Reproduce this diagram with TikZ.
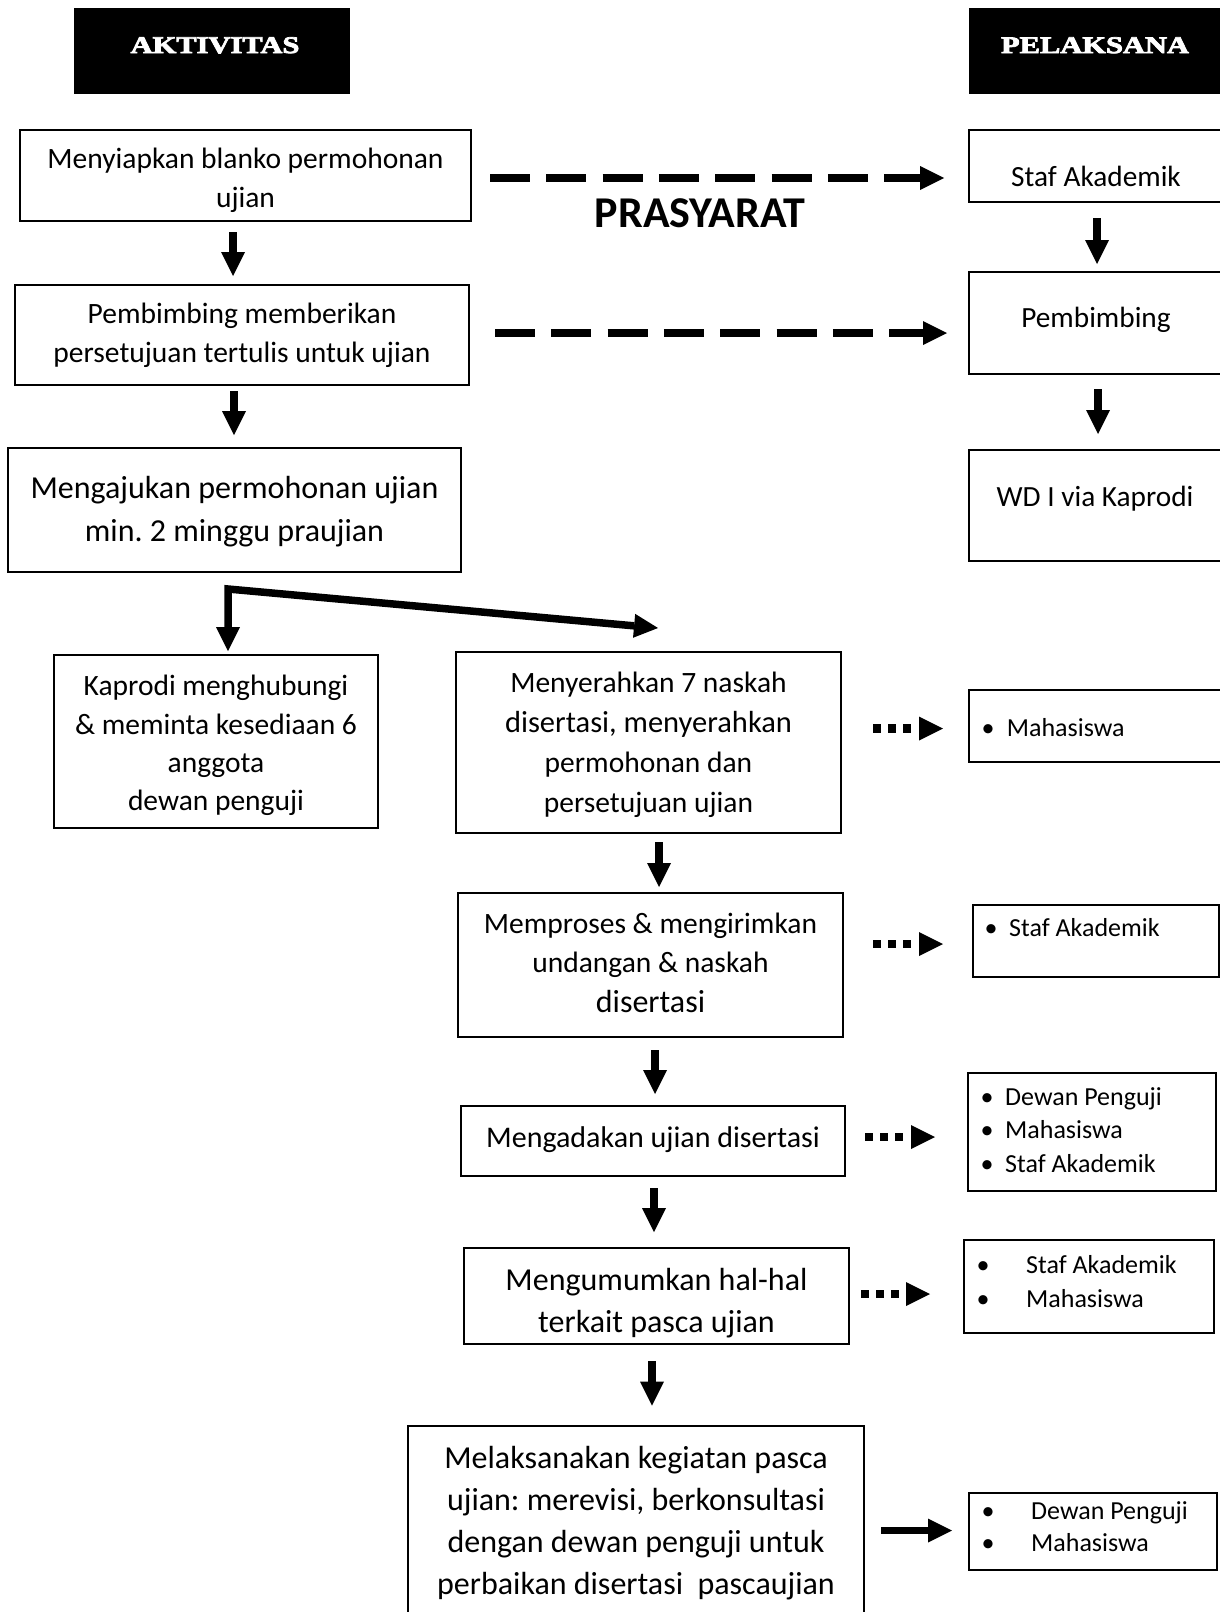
\documentclass[tikz,border=0pt]{standalone}
\usepackage{fontspec}
\setmainfont{Carlito}
\newfontfamily\headfont[BoldFeatures={FakeBold=3}]{Liberation Serif}
\usetikzlibrary{arrows.meta}
\newcommand\fsz[2]{\fontsize{#1}{#2}\selectfont}
\newcommand\bul[2]{\makebox[#1][l]{•}#2}
\frenchspacing

\tikzset{
  box/.style={draw=black, line width=2pt, inner sep=0pt},
  txt/.style={inner sep=0pt, align=center},
  headbox/.style={fill=black, draw=none, inner sep=0pt},
  headtxt/.style={text=white, font=\headfont\bfseries\fsz{24}{28}, xscale=1.27, inner sep=0pt},
  actor/.style={inner sep=0pt, font=\fsz{29.3}{38}, text height=0.72em, text depth=0.22em},
  item/.style={inner sep=0pt, anchor=west, font=\fsz{26}{34}, text height=0.72em, text depth=0.22em},
  flow/.style={line width=7.5pt, -{Triangle[length=24pt,width=24pt,line width=0pt]}},
  forkflow/.style={line width=7.5pt, line join=miter,
    {Triangle[length=24pt,width=24pt,line width=0pt]}-{Triangle[length=24pt,width=24pt,line width=0pt]}},
  dashflow/.style={line width=8.5pt, dash pattern=on 40pt off 16.3pt,
    -{Triangle[length=24pt,width=24pt,line width=0pt]}},
  dotflow/.style={line width=8.5pt, dash pattern=on 8pt off 7pt on 8pt off 7pt on 8pt off 40pt,
    -{Triangle[length=24pt,width=24pt,line width=0pt]}},
}

\begin{document}
\begin{tikzpicture}[x=1pt,y=-1pt]
\useasboundingbox (0,0) rectangle (1220,1612);

% column headers
\node[headbox, minimum width=276pt, minimum height=86pt] (hA) at (212,51) {};
\node[headtxt] (hAt) at (215,45.3) {AKTIVITAS};
\node[headbox, minimum width=255pt, minimum height=86pt] (hP) at (1096.5,51) {};
\node[headtxt] (hPt) at (1095,45.3) {PELAKSANA};

% activities
\node[box, minimum width=451pt, minimum height=91pt] (b1) at (245.5,175.5) {};
\node[txt, font=\fsz{29.5}{39}] (b1t) at (245.5,180)
  {Menyiapkan blanko permohonan\\ujian};
\node[box, minimum width=454pt, minimum height=100pt] (b2) at (242,335) {};
\node[txt, font=\fsz{29.5}{39}] (b2t) at (242,335)
  {Pembimbing memberikan\\persetujuan tertulis untuk ujian};
\node[box, minimum width=453pt, minimum height=124pt] (b3) at (234.5,510) {};
\node[txt, font=\fsz{32}{43}] (b3t) at (234.5,512)
  {Mengajukan permohonan ujian\\min. 2 minggu praujian};
\node[box, minimum width=324pt, minimum height=173pt] (b4) at (216,741.5) {};
\node[txt, font=\fsz{29.5}{38.3}] (b4t) at (216,745.5)
  {Kaprodi menghubungi\\\& meminta kesediaan 6\\anggota\\dewan penguji};
\node[box, minimum width=385pt, minimum height=181pt] (b5) at (648.5,742.5) {};
\node[txt, font=\fsz{29.5}{40}] (b5t) at (648.5,744.5)
  {Menyerahkan 7 naskah\\{\fsz{30.5}{40}disertasi, menyerahkan}\\permohonan dan\\persetujuan ujian};
\node[box, minimum width=385pt, minimum height=144pt] (b6) at (650.5,965) {};
\node[txt, font=\fsz{29.5}{39.5}] (b6t) at (650.5,962.5)
  {Memproses \& mengirimkan\\undangan \& naskah\\{\fsz{32}{39.5}disertasi}};
\node[box, minimum width=384pt, minimum height=70pt] (b7) at (653,1141) {};
\node[txt, font=\fsz{30}{39}] (b7t) at (653,1140)
  {Mengadakan ujian disertasi};
\node[box, minimum width=385pt, minimum height=96pt] (b8) at (656.5,1296) {};
\begin{scope}
  \clip (b8.south west) rectangle (b8.north east);
  \node[txt, font=\fsz{32}{42}] (b8t) at (656.5,1303.5)
    {Mengumumkan hal-hal\\terkait pasca ujian};
\end{scope}
\node[box, minimum width=456pt, minimum height=192pt] (b9) at (636,1522) {};
\node[txt, font=\fsz{32}{42}] (b9t) at (636,1523)
  {Melaksanakan kegiatan pasca\\ujian: merevisi, berkonsultasi\\dengan dewan penguji untuk\\perbaikan disertasi \ pascaujian};

% executors
\node[box, minimum width=255pt, minimum height=72pt] (R1) at (1096.5,166) {};
\node[actor] (R1t) at (1096,184) {Staf Akademik};
\node[box, minimum width=255pt, minimum height=102pt] (R2) at (1096.5,323) {};
\node[actor] (R2t) at (1096,325) {Pembimbing};
\node[box, minimum width=255pt, minimum height=111pt] (R3) at (1096.5,505.5) {};
\node[actor] (R3t) at (1095,504) {WD I via Kaprodi};

\node[box, minimum width=255.5pt, minimum height=72pt] (R4) at (1096.25,726) {};
\node[item] (R4a) at (981.5,734) {\bul{25.2pt}{Mahasiswa}};
\node[box, minimum width=246pt, minimum height=72pt] (R5) at (1095.5,941) {};
\node[item] (R5a) at (984.5,934) {\bul{24.5pt}{Staf Akademik}};
\node[box, minimum width=248pt, minimum height=118pt] (R6) at (1092,1132) {};
\node[item] (R6a) at (980.3,1102.5) {\bul{24.7pt}{Dewan Penguji}};
\node[item] (R6b) at (980.3,1136.4) {\bul{24.7pt}{Mahasiswa}};
\node[item] (R6c) at (980.3,1170) {\bul{24.7pt}{Staf Akademik}};
\node[box, minimum width=250pt, minimum height=93pt] (R7) at (1089,1286.5) {};
\node[item] (R7a) at (976.5,1271) {\bul{49.5pt}{Staf Akademik}};
\node[item] (R7b) at (976.5,1305) {\bul{49.5pt}{Mahasiswa}};
\node[box, minimum width=248pt, minimum height=77pt] (R8) at (1093,1531.5) {};
\node[item] (R8a) at (981.5,1516.5) {\bul{49.5pt}{Dewan Penguji}};
\node[item] (R8b) at (981.5,1549) {\bul{49.5pt}{Mahasiswa}};

% prerequisite links
\draw[dashflow, shorten <=18pt, shorten >=24pt] (b1.east |- 0,178) -- (R1.west |- 0,178);
\draw[dashflow, shorten <=25pt, shorten >=21pt] (b2.east |- 0,333) -- (R2.west |- 0,333);
\node[inner sep=0pt, font=\bfseries\fsz{44}{50}] (pre) at (700,213.5) {PRASYARAT};

% main flow
\draw[flow, shorten <=10pt, shorten >=8pt] (b1.south -| 233,0) -- (b2.north -| 233,0);
\draw[flow, shorten <=5pt, shorten >=12pt] (b2.south -| 234,0) -- (b3.north -| 234,0);
\draw[flow, shorten <=15pt, shorten >=7pt] (R1.south -| 1097,0) -- (R2.north -| 1097,0);
\draw[flow, shorten <=14pt, shorten >=15pt] (R2.south -| 1098,0) -- (R3.north -| 1098,0);

\coordinate (fork) at (228,589);
\coordinate (toB5) at (658,628);
\draw[forkflow, shorten <=3pt] (b4.north -| fork) -- (fork) -- (toB5);

\draw[flow, shorten <=8pt, shorten >=5pt] (b5.south -| 659,0) -- (b6.north -| 659,0);
\draw[flow, shorten <=12pt, shorten >=11pt] (b6.south -| 655,0) -- (b7.north -| 655,0);
\draw[flow, shorten <=11pt, shorten >=15pt] (b7.south -| 654,0) -- (b8.north -| 654,0);
\draw[flow, shorten <=16pt, shorten >=19.5pt] (b8.south -| 652,0) -- (b9.north -| 652,0);

% activity to executor links
\draw[dotflow, shorten <=31pt, shorten >=24.5pt] (b5.east |- 0,728.5) -- (R4.west |- 0,728.5);
\draw[dotflow, shorten <=29pt, shorten >=28.5pt] (b6.east |- 0,944) -- (R5.west |- 0,944);
\draw[dotflow, shorten <=19pt, shorten >=32pt] (b7.east |- 0,1137) -- (R6.west |- 0,1137);
\draw[dotflow, shorten <=11pt, shorten >=33pt] (b8.east |- 0,1294) -- (R7.west |- 0,1294);
\draw[flow, line width=7.7pt, shorten <=16pt, shorten >=16pt] (b9.east |- 0,1530.5) -- (R8.west |- 0,1530.5);
\end{tikzpicture}
\end{document}
